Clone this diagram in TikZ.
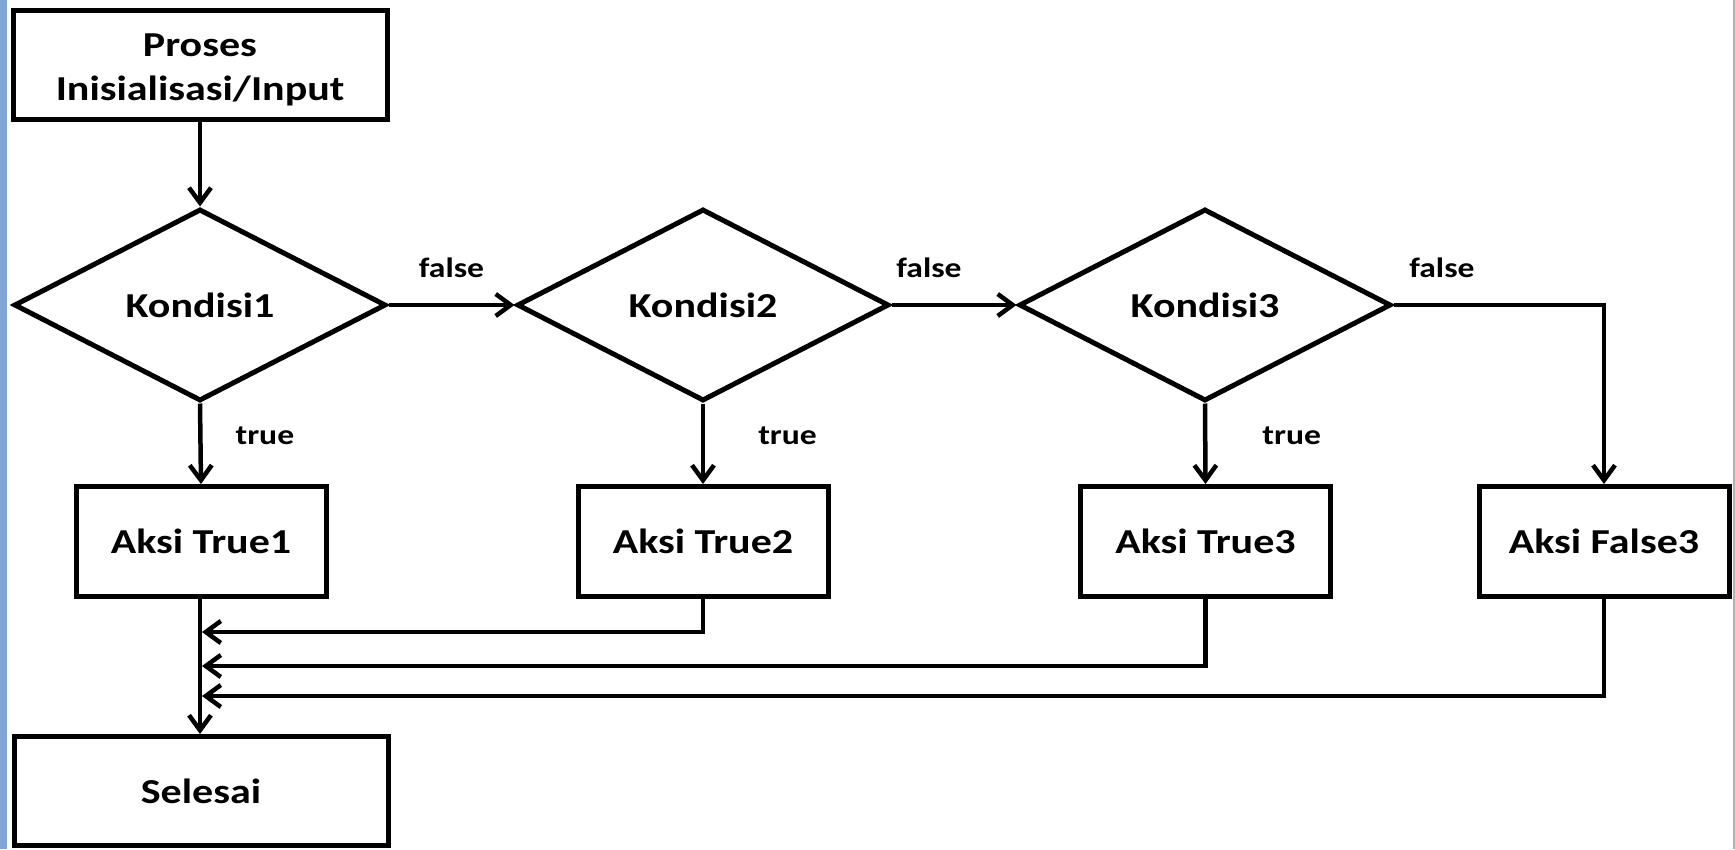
\documentclass[tikz,border=0pt]{standalone}
\usepackage{fontspec}
\newfontfamily\calfam[FakeStretch=1.2]{Carlito}
\usetikzlibrary{arrows.meta,shapes.geometric}
\definecolor{edgeblue}{RGB}{130,165,215}
\begin{document}
\begin{tikzpicture}[x=1pt,y=-1pt,
  base/.style={draw, line width=5pt, inner sep=0pt, align=center,
    font=\calfam\bfseries\fontsize{35}{44}\selectfont},
  bigbox/.style={base, rectangle, minimum width=374pt, minimum height=109pt},
  actbox/.style={base, rectangle, minimum width=250pt, minimum height=110pt},
  cond/.style={base, diamond, minimum width=372pt, minimum height=192pt},
  arr/.style={line width=4.5pt, -{Straight Barb[length=15pt,width=22pt,line width=4.5pt]}},
  lbl/.style={font=\calfam\bfseries\fontsize{28}{34}\selectfont, inner sep=0pt}
]
\useasboundingbox (0,0) rectangle (1735,849);
\fill[white] (0,0) rectangle (1735,849);
\fill[edgeblue] (0,0) rectangle (7,849);
\fill[gray!60] (1733,0) rectangle (1735,849);

\node[bigbox] (start) at (200,65) {\rule{0pt}{32pt}Proses\\Inisialisasi/Input};
\node[cond] (k1) at (200,305) {Kondisi1};
\node[cond] (k2) at (703,305) {Kondisi2};
\node[cond] (k3) at (1205,305) {Kondisi3};
\node[actbox] (t1) at (201,541.5) {Aksi True1};
\node[actbox] (t2) at (703,541.5) {Aksi True2};
\node[actbox] (t3) at (1205.5,541.5) {Aksi True3};
\node[actbox] (f3) at (1604,541.5) {Aksi False3};
\node[bigbox] (sel) at (201,791) {Selesai};

\coordinate (j1) at (200,632);
\coordinate (j2) at (200,666);
\coordinate (j3) at (200,696);

\draw[arr] (start) -- (k1);
\draw[arr] (k1.east) -- node[lbl, pos=0.5, above=25pt] {false} (k2.west);
\draw[arr] (k2.east) -- node[lbl, pos=0.3, above=25pt] {false} (k3.west);
\draw[arr] (k3.east) -| node[lbl, pos=0.115, above=25pt] {false} (f3.north);

\draw[arr] (k1.south) -- node[lbl, pos=0.4, anchor=west, xshift=33pt] {true} (t1.north);
\draw[arr] (k2.south) -- node[lbl, pos=0.4, anchor=west, xshift=53pt] {true} (t2.north);
\draw[arr] (k3.south) -- node[lbl, pos=0.4, anchor=west, xshift=55pt] {true} (t3.north);

\draw[arr] (t2.south) |- ([xshift=2pt]j1);
\draw[arr] (t3.south) |- ([xshift=2pt]j2);
\draw[arr] (f3.south) |- ([xshift=2pt]j3);
\draw[arr] (t1.south -| j1) -- (sel.north -| j1);
\end{tikzpicture}
\end{document}
